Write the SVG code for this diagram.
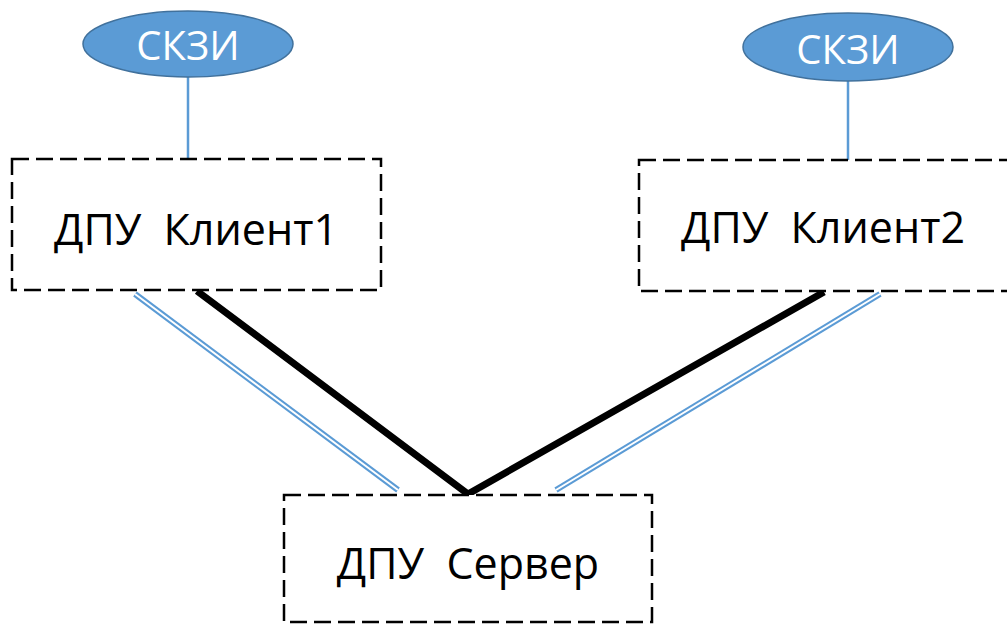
<svg xmlns="http://www.w3.org/2000/svg" width="1007" height="624" viewBox="0 0 1007 624">
<style>
.box{fill:#fff;stroke:#000;stroke-width:2.5;stroke-dasharray:17 7}
.lbl{font-family:"Open Sans","DejaVu Sans",sans-serif;font-size:43px;fill:#000;text-anchor:middle;white-space:pre}
.ell{fill:#5B9BD5;stroke:#41719C;stroke-width:1.5}
.elbl{font-family:"Open Sans","DejaVu Sans",sans-serif;font-size:40px;fill:#fff;text-anchor:middle}
.stem{stroke:#5B9BD5;stroke-width:2.5;fill:none}
.thick{stroke:#000;stroke-width:7;fill:none;stroke-linejoin:miter}
.dblo{stroke:#5B9BD5;stroke-width:6;fill:none}
.dbli{stroke:#fff;stroke-width:2;fill:none}
</style>
<rect width="1007" height="624" fill="#fff"/>
<g id="connectors">
<line class="stem" x1="188" y1="77" x2="188" y2="159"/>
<line class="stem" x1="848" y1="81" x2="848" y2="160"/>
<polyline class="thick" points="197,291 468,494 824,292"/>
<line class="dblo" x1="135" y1="294" x2="398" y2="490"/>
<line class="dbli" x1="135" y1="294" x2="398" y2="490"/>
<line class="dblo" x1="880" y1="294" x2="556" y2="490"/>
<line class="dbli" x1="880" y1="294" x2="556" y2="490"/>
</g>
<g id="client1">
<rect class="box" x="12" y="159" width="369" height="131"/>
<text class="lbl" x="196" y="245" xml:space="preserve">ДПУ  Клиент1</text>
</g>
<g id="client2">
<rect class="box" x="639" y="160" width="400" height="131"/>
<text class="lbl" x="823" y="243" xml:space="preserve">ДПУ  Клиент2</text>
</g>
<g id="server">
<rect class="box" x="284" y="495" width="368" height="127"/>
<text class="lbl" x="468" y="579" xml:space="preserve">ДПУ  Сервер</text>
</g>
<g id="skzi1">
<ellipse class="ell" cx="188" cy="44" rx="105" ry="33"/>
<text class="elbl" x="188" y="60">СКЗИ</text>
</g>
<g id="skzi2">
<ellipse class="ell" cx="848" cy="47" rx="105" ry="34"/>
<text class="elbl" x="848" y="64">СКЗИ</text>
</g>
</svg>
